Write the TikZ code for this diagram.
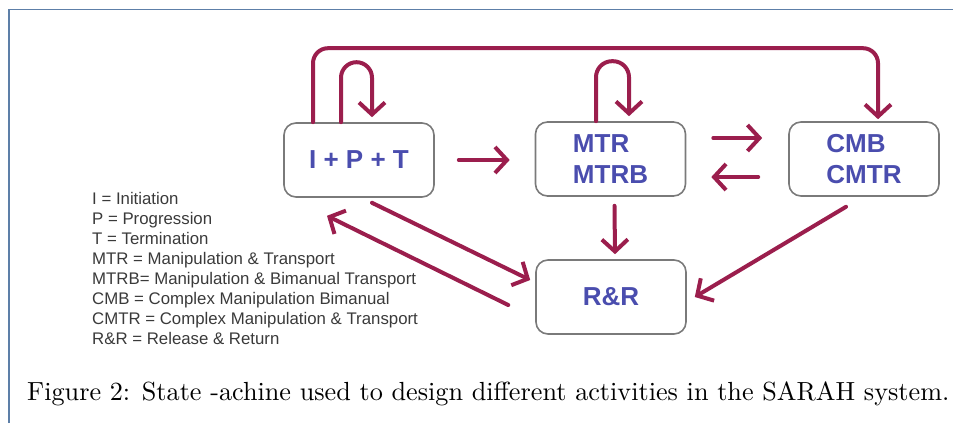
\documentclass[tikz,border=0pt]{standalone}
\usepackage{fontspec}
\setsansfont{Liberation Sans}
\newfontfamily\capfont[Extension=.otf]{lmroman10-regular}
\usetikzlibrary{arrows.meta,calc}
\definecolor{linkred}{HTML}{9B1E4D}
\definecolor{stateblue}{HTML}{4A4DAE}
\definecolor{boxgray}{HTML}{7A7A7A}
\definecolor{frameblue}{HTML}{5D7FA8}
\definecolor{legendgray}{HTML}{3A3A3A}
\begin{document}
\begin{tikzpicture}[x=1pt,y=-1pt,
    state/.style={draw=boxgray,line width=1.6pt,rounded corners=12pt,
      minimum width=150pt,minimum height=74pt,align=left,text=stateblue,
      font=\fontsize{26}{31.5}\selectfont\sffamily\bfseries},
    link/.style={draw=linkred,line width=4pt,line cap=round,line join=round,
      -{Straight Barb[length=12pt,width=26pt]}}]
  \useasboundingbox (0,0) rectangle (953,423);
  \draw[frameblue,line width=1.5pt] (9,423) -- (9,9.5) -- (953,9.5);
  \node[state] (ipt) at (359,160) {I + P + T};
  \node[state] (mtr) at (610.5,159) {MTR\\MTRB};
  \node[state] (cmb) at (864,159) {CMB\\CMTR};
  \node[state] (rr) at (611,297) {R\&R};
  \draw[link,rounded corners=15pt] ($(ipt.north)+(-46,0)$) -- ++(0,-74) -| ($(cmb.north)+(14,-2)$);
  \draw[link,rounded corners=15.5pt] ($(ipt.north)+(-18,0)$) -- ++(0,-60) -| ($(ipt.north)+(13,-5)$);
  \draw[link,rounded corners=16pt] ($(mtr.north)+(-14.5,0)$) -- ++(0,-60) -| ($(mtr.north)+(18.5,-5)$);
  \draw[link] ($(ipt.east)+(24,0)$) -- ($(mtr.west)+(-25,1)$);
  \draw[link] ($(mtr.east)+(27,-21)$) -- ($(cmb.west)+(-26,-21)$);
  \draw[link] ($(cmb.west)+(-30,18)$) -- ($(mtr.east)+(25,18)$);
  \draw[link] ($(mtr.south)+(4,9)$) -- ($(rr.north)+(4,-5)$);
  \draw[link] ($(ipt.south)+(13,5)$) -- ($(rr.west)+(-5,-17)$);
  \draw[link] ($(rr.west)+(-27,8)$) -- ($(ipt.south)+(-32,18)$);
  \draw[link] ($(cmb.south)+(-18,10)$) -- ($(rr.east)+(8,0)$);
  \node[anchor=north west,inner sep=0pt,align=left,text=legendgray,
    font=\fontsize{16.8}{20}\selectfont\sffamily] (legend) at (92,192)
    {I = Initiation\\P = Progression\\T = Termination\\MTR = Manipulation \& Transport\\
     MTRB= Manipulation \& Bimanual Transport\\CMB = Complex Manipulation Bimanual\\
     CMTR = Complex Manipulation \& Transport\\R\&R = Release \& Return};
  \node[anchor=base west,inner sep=0pt,font=\capfont\fontsize{26.2}{30}\selectfont] (caption) at (27,400)
    {Figure 2: State -achine used to design different activities in the SARAH system.};
\end{tikzpicture}
\end{document}
